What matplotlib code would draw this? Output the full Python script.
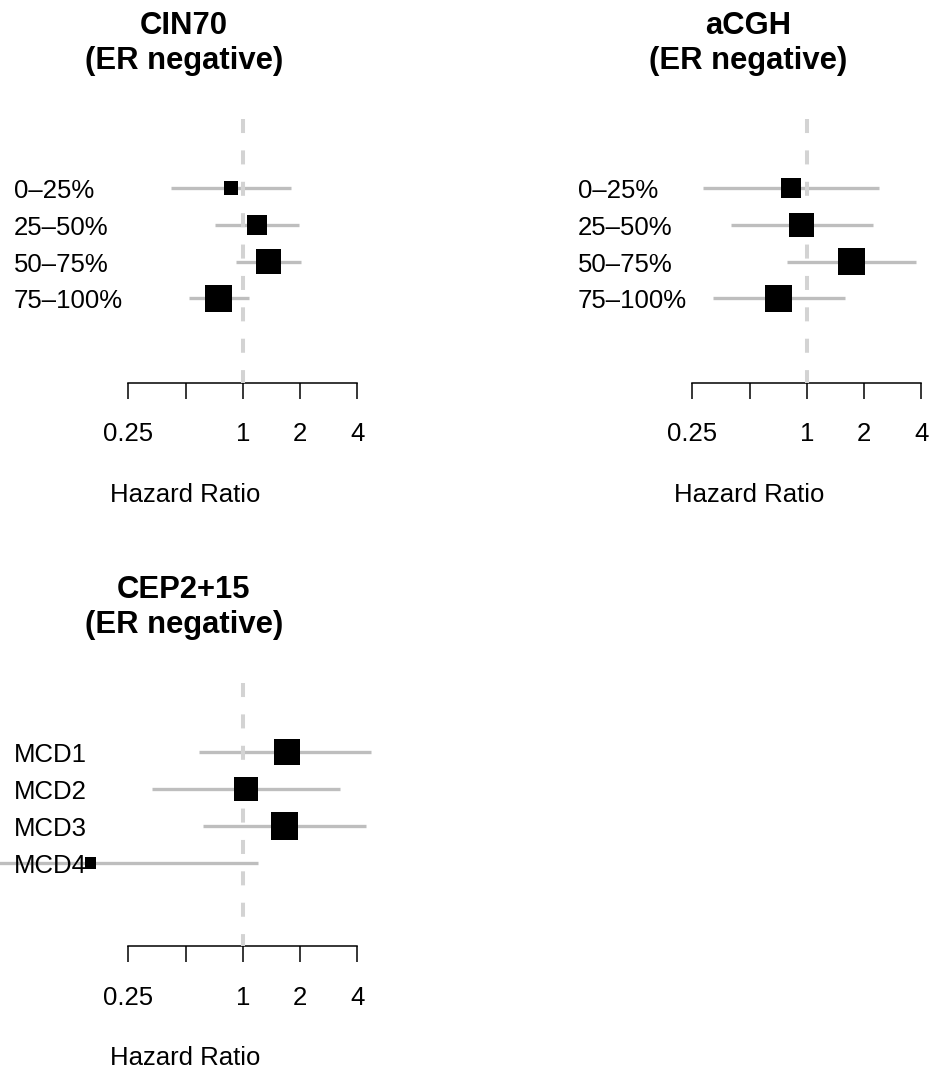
import numpy as np
import matplotlib
matplotlib.use("Agg")
import matplotlib.pyplot as plt
from matplotlib import transforms
from matplotlib.ticker import NullLocator

plt.rcParams['font.family'] = ['Liberation Sans', 'DejaVu Sans']
plt.rcParams['lines.scale_dashes'] = False

# ---------------- data ----------------
titles = ["CIN70", "aCGH", "CEP2+15"]
subtitle = "(ER negative)"
quartile_labels = ["0–25%", "25–50%", "50–75%", "75–100%"]
mcd_labels = ["MCD1", "MCD2", "MCD3", "MCD4"]

cin70_hr = [0.868, 1.19, 1.37, 0.745]
cin70_lo = [0.419, 0.714, 0.922, 0.521]
cin70_hi = [1.80, 1.98, 2.03, 1.08]

acgh_hr = [0.827, 0.941, 1.72, 0.712]
acgh_lo = [0.285, 0.398, 0.79, 0.321]
acgh_hi = [2.40, 2.23, 3.75, 1.585]

cep_hr = [1.71, 1.04, 1.66, 0.158]
cep_lo = [0.59, 0.334, 0.62, 0.0117]
cep_hi = [4.73, 3.26, 4.47, 1.21]

tick_values = [0.25, 0.5, 1, 2, 4]
tick_labels = ["0.25", "", "1", "2", "4"]
xlabel_text = "Hazard Ratio"

# ---------------- layout (pixels) ----------------
W, H = 931, 1068
DPI = 100
PPD = 57.2          # pixels per doubling of HR
BOX_MAX = 27.5      # px side of the largest box in a panel

panels = [
    dict(title=titles[0], labels=quartile_labels, hr=cin70_hr, lo=cin70_lo, hi=cin70_hi,
         one=242.7, row1=188.3, sp=36.7, axis=382.7, left=0, right=465,
         label_x=14, center_x=184.0),
    dict(title=titles[1], labels=quartile_labels, hr=acgh_hr, lo=acgh_lo, hi=acgh_hi,
         one=806.7, row1=188.3, sp=36.7, axis=382.7, left=560, right=931,
         label_x=578, center_x=748.0),
    dict(title=titles[2], labels=mcd_labels, hr=cep_hr, lo=cep_lo, hi=cep_hi,
         one=242.7, row1=752.0, sp=36.9, axis=946.0, left=0, right=465,
         label_x=14, center_x=184.0),
]

FS = 18.5
FS_TITLE = 22.3

fig = plt.figure(figsize=(W / DPI, H / DPI), dpi=DPI)
fig.patch.set_facecolor("white")

for p in panels:
    top_px = p["row1"] - 95
    ax = fig.add_axes([p["left"] / W, 1 - p["axis"] / H,
                       (p["right"] - p["left"]) / W, (p["axis"] - top_px) / H])
    ax.set_xscale("log", base=2)
    ax.set_xlim(2 ** ((p["left"] - p["one"]) / PPD), 2 ** ((p["right"] - p["one"]) / PPD))
    y_bottom = (p["axis"] - p["row1"]) / p["sp"]
    y_top = (top_px - p["row1"]) / p["sp"]
    ax.set_ylim(y_bottom, y_top)
    ax.patch.set_alpha(0)

    n = len(p["hr"])
    rows = np.arange(n)
    hr = np.array(p["hr"])
    lo = np.array(p["lo"])
    hi = np.array(p["hi"])

    # confidence intervals
    ax.hlines(rows, lo, hi, colors="#BEBEBE", linewidth=2.4, zorder=2)
    # reference line at HR = 1
    ax.plot([1, 1], [-69 / p["sp"], y_bottom], color="#D3D3D3", linewidth=2.9,
            dashes=(10.1, 12.5), dash_capstyle="butt", zorder=3)
    # boxes sized by precision (inverse CI width)
    width = np.log2(hi / lo)
    side_pt = BOX_MAX * width.min() / width * 72 / DPI
    ax.scatter(hr, rows, s=side_pt ** 2, marker="s", color="black",
               linewidths=0, zorder=4)

    # axis
    for s in ["top", "right", "left"]:
        ax.spines[s].set_visible(False)
    ax.spines["bottom"].set_bounds(0.25, 4)
    ax.spines["bottom"].set_linewidth(1.1)
    ax.set_xticks(tick_values)
    ax.set_xticklabels(tick_labels)
    ax.xaxis.set_minor_locator(NullLocator())
    ax.tick_params(axis="x", length=11.5, width=1.1, pad=17, labelsize=FS,
                   direction="out", colors="black")
    ax.set_yticks([])

    # row labels: above the CI lines, below the boxes
    trans = transforms.blended_transform_factory(fig.transFigure, ax.transData) + \
        transforms.ScaledTranslation(0, -10 / DPI, fig.dpi_scale_trans)
    for r, lab in zip(rows, p["labels"]):
        ax.text(p["label_x"] / W, r, lab, transform=trans, ha="left",
                va="baseline", fontsize=FS, zorder=3.5, clip_on=False)

    # titles
    base1 = p["row1"] - 154.3
    fig.text(p["center_x"] / W, 1 - base1 / H, p["title"], ha="center",
             va="baseline", fontsize=FS_TITLE, fontweight="bold")
    fig.text(p["center_x"] / W, 1 - (base1 + 35) / H, subtitle, ha="center",
             va="baseline", fontsize=FS_TITLE, fontweight="bold")
    # x label
    fig.text((p["center_x"] + 1.3) / W, 1 - (p["axis"] + 119) / H, xlabel_text,
             ha="center", va="baseline", fontsize=FS)

fig.savefig("out.png", dpi=DPI, facecolor="white")
